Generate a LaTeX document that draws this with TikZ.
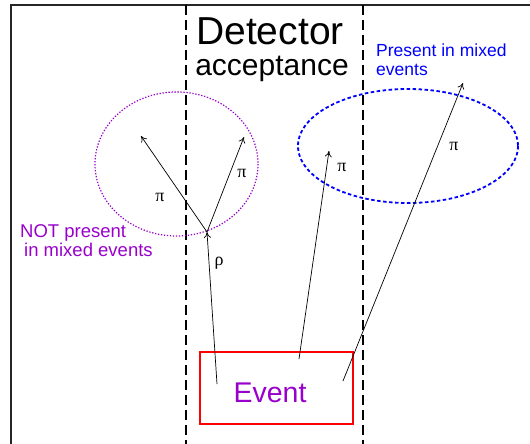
\documentclass[tikz,border=0pt]{standalone}
\usepackage{fontspec}
\setmainfont{Liberation Sans}
\newfontfamily\greekfont{Liberation Serif}
\usetikzlibrary{arrows.meta}
\definecolor{myviolet}{RGB}{153,0,204}
\definecolor{myblue}{RGB}{0,0,255}
\definecolor{myred}{RGB}{255,0,0}
\begin{document}
\begin{tikzpicture}[x=1pt,y=-1pt,
  frameline/.style={line width=1.5pt,black!85},
  accline/.style={line width=1.3pt,dash pattern=on 10pt off 5pt},
  track/.style={line width=0.7pt,-{To[length=6pt,width=7pt]}},
  greek/.style={font=\greekfont\fontsize{18}{18}\selectfont,inner sep=0pt},
  lbl/.style={align=left,inner sep=0pt,anchor=base west}]
\useasboundingbox (0,0) rectangle (530,444);
% frame
\coordinate (ftl) at (11,5);
\coordinate (fbl) at (11,444);
\coordinate (ftr) at (530,5);
\draw[frameline] (fbl) -- (ftl) -- (ftr);
% acceptance lines
\coordinate (a1t) at (186,5);
\coordinate (a1b) at (186,444);
\coordinate (a2t) at (363,5);
\coordinate (a2b) at (363,444);
\draw[accline] (a1t) -- (a1b);
\draw[accline] (a2t) -- (a2b);
% title
\node[inner sep=0pt,anchor=base] (det) at (270,45) {\fontsize{39}{39}\selectfont Detector};
\node[inner sep=0pt,anchor=base] (acc) at (272,75) {\fontsize{30}{30}\selectfont acceptance};
% ellipses
\draw[myviolet,line width=1.2pt,dash pattern=on 1.3pt off 1.7pt] (176.5,164) ellipse [x radius=81.5,y radius=72];
\draw[myblue,line width=1.8pt,dash pattern=on 3.5pt off 2.5pt] (408,146) ellipse [x radius=110,y radius=57];
% labels
\node[lbl,text=myblue,font=\fontsize{17.5}{18}\selectfont] (pres) at (376,75) {Present in mixed\\events};
\node[lbl,text=myviolet,font=\fontsize{18.5}{19}\selectfont] (notp) at (20,256) {NOT present\\\hspace{4pt}in mixed events};
% event box
\node[draw=myred,line width=1.3pt,minimum width=153pt,minimum height=72pt,inner sep=0pt] (ev) at (276.5,388) {};
\node[text=myviolet,inner sep=0pt,anchor=base] (evt) at (270,402) {\fontsize{28.5}{28.5}\selectfont Event};
% tracks
\coordinate (rs) at (217,384);
\coordinate (vtx) at (207,232);
\coordinate (p1) at (141,136);
\coordinate (p2) at (244,137);
\coordinate (ms) at (299,359);
\coordinate (me) at (329,151);
\coordinate (ls) at (343,381);
\coordinate (le) at (463,83);
\draw[track] (rs) -- (vtx);
\draw[track] (vtx) -- (p1);
\draw[track] (vtx) -- (p2);
\draw[track] (ms) -- (me);
\draw[track] (ls) -- (le);
% greek labels
\node[greek] (gp1) at (160,197) {π};
\node[greek] (gp2) at (242,173) {π};
\node[greek] (grho) at (219,263) {ρ};
\node[greek] (gp3) at (342,167) {π};
\node[greek] (gp4) at (454,146) {π};
\end{tikzpicture}
\end{document}
